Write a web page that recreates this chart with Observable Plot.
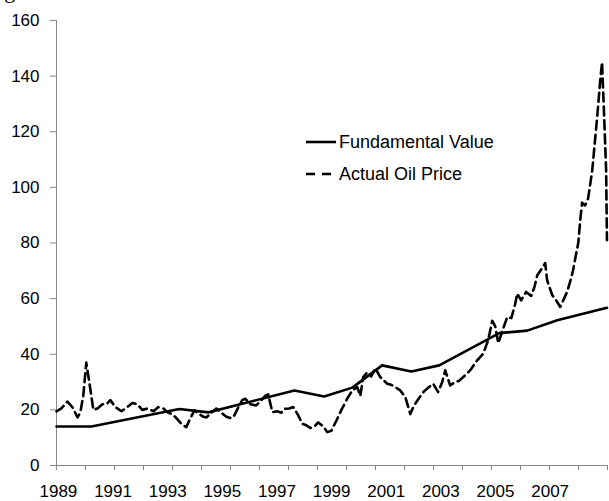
<!DOCTYPE html>
<html>
<head>
<meta charset="utf-8">
<script src="https://cdn.jsdelivr.net/npm/d3@7"></script>
<script src="https://cdn.jsdelivr.net/npm/@observablehq/plot@0.6"></script>
<style>
  html, body { margin: 0; padding: 0; background: #fff; overflow: hidden; }
  #wrap { position: relative; width: 609px; height: 501px; overflow: hidden; }
  #title { position: absolute; left: -14px; top: -20px; white-space: nowrap;
           font: 22px/22px "Liberation Serif", "DejaVu Serif", serif; color: #000; }
  #legend { position: absolute; left: 0; top: 0; width: 609px; height: 0;
            font: 18px "Liberation Sans", Arial, sans-serif; color: #000; }
  #legend .item { position: absolute; left: 306px; display: flex; align-items: center;
                  height: 20px; white-space: nowrap; }
  #legend svg { display: block; margin-right: 3px; flex: none; }
</style>
</head>
<body>
<div id="wrap">
  <div id="title">Figure 1: Actual Oil Price and Fundamental Value of Oil</div>
  <div id="chart"></div>
  <div id="legend"></div>
</div>
<script>
// ---- data ----
const seriesNames = ["Fundamental Value", "Actual Oil Price"];

const fundYears  = [1988.93, 1990.21, 1993.43, 1994.49, 1997.64, 1998.73, 1999.76, 2000.85, 2001.92, 2002.94, 2005.14, 2006.16, 2007.26, 2009.08];
const fundValues = [14, 14, 20.3, 19.1, 27, 24.8, 28, 36, 33.8, 36, 47.6, 48.5, 52.2, 56.7];

const oilYears = [
  1988.93, 1989.11, 1989.33, 1989.51, 1989.70, 1989.80, 1989.91, 1990.02, 1990.13, 1990.28,
  1990.43, 1990.61, 1990.76, 1990.90, 1991.09, 1991.31, 1991.52, 1991.71, 1991.89, 1992.07,
  1992.26, 1992.48, 1992.66, 1992.84, 1993.02, 1993.17, 1993.32, 1993.50, 1993.68, 1993.83,
  1993.98, 1994.16, 1994.31, 1994.42, 1994.60, 1994.78, 1994.96, 1995.15, 1995.33, 1995.44,
  1995.59, 1995.73, 1995.84, 1996.03, 1996.24, 1996.43, 1996.57, 1996.68, 1996.83, 1997.01,
  1997.16, 1997.27, 1997.45, 1997.60, 1997.78, 1997.93, 1998.07, 1998.22, 1998.37, 1998.51,
  1998.70, 1998.84, 1998.99, 1999.17, 1999.35, 1999.57, 1999.76, 1999.94, 2000.05, 2000.16,
  2000.31, 2000.45, 2000.60, 2000.78, 2001.04, 2001.18, 2001.33, 2001.51, 2001.70, 2001.88,
  2001.99, 2002.14, 2002.36, 2002.54, 2002.72, 2002.90, 2003.05, 2003.16, 2003.34, 2003.53,
  2003.67, 2003.82, 2004.07, 2004.33, 2004.55, 2004.73, 2004.88, 2004.99, 2005.10, 2005.28,
  2005.43, 2005.58, 2005.72, 2005.79, 2005.94, 2006.12, 2006.31, 2006.42, 2006.53, 2006.71,
  2006.82, 2006.89, 2007.08, 2007.22, 2007.37, 2007.51, 2007.62, 2007.73, 2007.84, 2007.95,
  2008.03, 2008.10, 2008.17, 2008.28, 2008.39, 2008.54, 2008.72, 2008.83, 2008.90, 2008.98,
  2009.05, 2009.08
];
const oilValues = [
  19.5, 20.5, 23, 21, 17.3, 19, 25, 37, 30, 20,
  20.5, 22, 22, 23.5, 21, 19.5, 21, 22.5, 22, 20,
  20.5, 19.5, 21, 20.5, 19, 18.5, 17, 15, 13.8, 17,
  19.8, 18.5, 17.5, 17.3, 19, 20.5, 19, 17.5, 17, 18,
  21, 23.5, 24, 22, 21.6, 23.5, 25, 25.6, 19.2, 19.5,
  19, 20.4, 20.5, 21, 18, 15, 14.5, 13.5, 14, 15.5,
  14, 12, 12.5, 16, 19.8, 24, 27, 28.2, 25, 31.8,
  33.6, 32, 35, 31.8, 29.4, 29, 28.2, 27, 24.6, 18.5,
  21, 23.4, 26.4, 28, 29.4, 26.4, 30, 34.2, 28.8, 30,
  30.5, 31.8, 34.2, 37.8, 40.2, 45, 52, 50, 44, 49.2,
  53.4, 53, 58, 61.8, 59.4, 62.4, 61, 64, 68.4, 71,
  72.8, 66.6, 61.2, 59.4, 57, 60, 62.4, 66, 70.2, 76,
  80, 88, 94.5, 93.5, 96, 106, 125, 138, 145, 125,
  106, 81
];

const xLabels = [1989, 1991, 1993, 1995, 1997, 1999, 2001, 2003, 2005, 2007];
const yTicks = [0, 20, 40, 60, 80, 100, 120, 140, 160];
const xDomain = [1988.93, 2009.1];
const yDomain = [0, 160];
const xTickCount = 20; // tick marks along the category axis

// ---- build ----
const fund = fundYears.map((x, i) => ({x, y: fundValues[i]}));
const oil = oilYears.map((x, i) => ({x, y: oilValues[i]}));
const xTickMarks = d3.range(xTickCount).map(i => xDomain[0] + i * (xDomain[1] - xDomain[0]) / (xTickCount - 1));

const axisGray = "#868686";
const font = '"Liberation Sans", Arial, sans-serif';

const chart = Plot.plot({
  width: 609,
  height: 501,
  marginLeft: 56,
  marginRight: 2,
  marginTop: 20,
  marginBottom: 36,
  style: {fontFamily: font, fontSize: "17px", color: "#000", background: "transparent"},
  x: {domain: xDomain},
  y: {domain: yDomain},
  marks: [
    Plot.axisY({ticks: yTicks, tickSize: 6, tickPadding: 11, stroke: axisGray, fill: "#000", fontSize: 17, label: null}),
    Plot.axisX({ticks: xTickMarks, tickSize: 5, tickFormat: () => "", stroke: axisGray, label: null}),
    Plot.axisX({ticks: xLabels, tickSize: 0, tickPadding: 19, tickFormat: d => String(d), fill: "#000", fontSize: 17, label: null}),
    Plot.ruleX([xDomain[0]], {stroke: axisGray, strokeWidth: 1}),
    Plot.ruleY([yDomain[0]], {stroke: axisGray, strokeWidth: 1}),
    Plot.line(fund, {x: "x", y: "y", stroke: "#000", strokeWidth: 2.6}),
    Plot.line(oil, {x: "x", y: "y", stroke: "#000", strokeWidth: 2.6, strokeDasharray: "9,5"})
  ]
});
document.getElementById("chart").appendChild(chart);

// ---- legend overlay ----
const legend = document.getElementById("legend");
const legendStyles = [{dash: null, top: 132}, {dash: "9,7", top: 164}];
seriesNames.forEach((name, i) => {
  const item = document.createElement("div");
  item.className = "item";
  item.style.top = legendStyles[i].top + "px";
  const dash = legendStyles[i].dash ? `stroke-dasharray="${legendStyles[i].dash}"` : "";
  item.innerHTML = `<svg width="30" height="6"><line x1="0" x2="30" y1="3" y2="3" stroke="#000" stroke-width="2.6" ${dash}/></svg><span>${name}</span>`;
  legend.appendChild(item);
});
</script>
</body>
</html>
